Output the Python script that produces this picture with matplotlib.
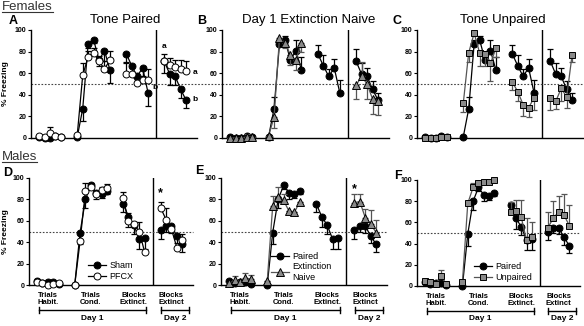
import matplotlib
matplotlib.use("Agg")
import matplotlib.pyplot as plt
import matplotlib.transforms as mtransforms
import numpy as np
from matplotlib.lines import Line2D

plt.rcParams["font.family"] = ["Liberation Sans", "DejaVu Sans"]

# x positions: 5 habituation trials, 7 conditioning trials, 5 extinction blocks day 1, 5 blocks day 2
X_POS = [1, 2, 3, 4, 5, 8, 9, 10, 11, 12, 13, 14, 17, 18, 19, 20, 21, 24, 25, 26, 27, 28]
SEGMENTS = [(0, 5), (5, 12), (12, 17), (17, 22)]
NA = np.nan

# Females
fem_paired = [1, 0, 0, 2, 1, 1, 27, 87, 91, 72, 81, 63, 78, 67, 57, 65, 42, 71, 59, 57, 45, 35]
fem_paired_err = [0, 0, 0, 0, 0, 0, 11, 4, 3, 5, 10, 12, 8, 10, 7, 8, 12, 11, 10, 8, 8, 7]
fem_pfcx = [2, 1, 5, 2, 1, 3, 58, 75, 79, 71, 64, 72, 59, 59, 51, 54, 54, 71, 68, 66, 64, 62]
fem_pfcx_err = [0, 0, 5, 0, 0, 0, 11, 6, 4, 5, 7, 9, 10, 0, 0, 9, 10, 7, 6, 6, 8, 9]
fem_naive = [0, 0, 0, 1, 1, 2, 19, 93, 88, 77, 72, 88, NA, NA, NA, NA, NA, 49, 57, 50, 36, 34]
fem_naive_err = [0, 0, 0, 3, 0, 0, -10, -3, -5, -9, -9, -8, 0, 0, 0, 0, 0, -13, 13, -14, -14, -13]
fem_unpaired = [0, 0, 0, 1, 1, 32, 79, 97, 79, 78, 69, 83, 52, 43, 31, 28, 37, 37, 34, 46, 38, 77]
fem_unpaired_err = [0, 0, 0, 0, 0, -8, -9, 0, -12, -11, -16, -8, -8, -9, -11, -9, -11, -11, -7, -12, -10, -7]

# Males
male_paired = [4, 2, 3, 3, 1, 0, 49, 80, 93, 86, 85, 88, 76, 64, 56, 43, 44, 51, 55, 55, 46, 38]
male_paired_err = [0, 0, 0, 0, 0, 0, 11, 8, 3, 6, 4, 3, 8, 10, 8, 9, 10, 8, 5, 6, 7, 7]
male_pfcx = [3, 1.5, 0, 1, 2, 0, 41, 88, 92, 85, 89, 91, 81, 60, 57, 50, 31, 72, 61, 52, 35, 42]
male_pfcx_err = [0, 0, 0, 0, 0, 0, 0, 7, 3, 0, 3, 3, 6, 7, 0, 9, 0, 6, 11, 0, 0, 6]
male_naive = [1.5, 4.5, 3, 6.5, 5.5, 4, 74, 82, 79, 69, 68, 78, NA, NA, NA, NA, NA, 77, 78, 63, 57, 49]
male_naive_err = [0, 4, 0, 5, 4, 0, 9, 10, 6, 0, 0, 0, 0, 0, 0, 0, 0, 8, 7, 8, 13, 12]
male_unpaired = [5, 4, 2, 9, 2, 3.5, 78, 93, 97, 98, 98, 100, 70, 71, 65, 43, 46, 55, 64, 70, 67, 57]
male_unpaired_err = [0, 0, 0, 6, 0, 0, 0, 4, 2, 0, 0, 0, 9, 10, 16, 21, 14, 15, 16, 15, 20, 19]

GROUP_LABELS = ["Trials\nHabit.", "Trials\nCond.", "Blocks\nExtinct.", "Blocks\nExtinct"]
GROUP_CENTERS = [3, 11, 19, 26]

W, H = 584, 326
GRAY = "#8a8a8a"
DARK = "#555555"
INK = "black"


def px_axes(fig, left, top, right, bottom):
    return fig.add_axes([left / W, 1 - bottom / H, (right - left) / W, (bottom - top) / H])


def style_axes(ax, dotted_extent=1.0):
    ax.set_facecolor("none")
    ax.set_xlim(-0.5, 30)
    ax.set_ylim(0, 100)
    ax.set_yticks(range(0, 101, 20))
    ax.set_xticks([])
    for lab in ax.get_yticklabels():
        lab.set_fontweight("bold")
    ax.tick_params(axis="y", labelsize=5, length=2.5, width=0.8, pad=1)
    for side in ("top", "right"):
        ax.spines[side].set_visible(False)
    for side in ("left", "bottom"):
        ax.spines[side].set_linewidth(1.0)
    ax.axvline(22.5, color=INK, lw=1.0, zorder=1)
    ax.axhline(50, xmin=0, xmax=dotted_extent, color="#444444", lw=0.8,
               ls=(0, (1.5, 1.5)), clip_on=False, zorder=1)


def split_err(err, sign):
    e = np.asarray(err, float) * sign
    return np.where(e < 0, -e, 0), np.where(e > 0, e, 0)


def draw_series(ax, values, err, marker, face, line, ms, sign=1, z=3):
    x = np.asarray(X_POS, float)
    y = np.asarray(values, float)
    lo, hi = split_err(err, sign)
    for a, b in SEGMENTS:
        if np.all(np.isnan(y[a:b])):
            continue
        ax.errorbar(x[a:b], y[a:b], yerr=[lo[a:b], hi[a:b]], fmt="none", ecolor=line,
                    elinewidth=0.9, capsize=2.2, capthick=0.9, zorder=z, clip_on=False)
        ax.plot(x[a:b], y[a:b], color=line, lw=0.9, marker=marker, ms=ms, mfc=face,
                mec="black", mew=0.7, zorder=z + 0.5, clip_on=False)


def handle(marker, face, line, ms):
    return Line2D([], [], color=line, lw=0.9, marker=marker, ms=ms, mfc=face, mec="black", mew=0.7)


def panel_letter(ax, letter, x, y):
    ax.text(x, y, letter, transform=ax.transAxes, fontsize=9, fontweight="bold",
            ha="center", va="center")


def bottom_labels(ax):
    trans = mtransforms.blended_transform_factory(ax.transData, ax.transAxes)
    for cx, lab in zip(GROUP_CENTERS, GROUP_LABELS):
        ax.text(cx, -0.065, lab, transform=trans, ha="center", va="top", fontsize=5.5,
                fontweight="bold", linespacing=1.0)
    for x0, x1, lab in [(1.3, 21.3, "Day 1"), (24.1, 29.3, "Day 2")]:
        ax.plot([x0, x1], [-0.235, -0.235], color=INK, lw=1.0, transform=trans, clip_on=False)
        for xe in (x0, x1):
            ax.plot([xe, xe], [-0.205, -0.265], color=INK, lw=1.0, transform=trans, clip_on=False)
        ax.text((x0 + x1) / 2, -0.31, lab, transform=trans, ha="center", va="center",
                fontsize=6, fontweight="bold")


fig = plt.figure(figsize=(W / 100, H / 100), dpi=100)

axA = px_axes(fig, 31, 30, 197, 138)
axB = px_axes(fig, 222, 30, 389, 138)
axC = px_axes(fig, 417, 30, 583, 138)
axD = px_axes(fig, 29, 178, 193, 285)
axE = px_axes(fig, 221, 178, 387, 285)
axF = px_axes(fig, 417, 180, 580, 286)

for ax in (axA, axB):
    style_axes(ax, dotted_extent=1.15)
for ax in (axC, axD, axE, axF):
    style_axes(ax)

# --- Females ---
draw_series(axA, fem_paired, fem_paired_err, "o", "black", INK, 5, sign=-1)
draw_series(axA, fem_pfcx, fem_pfcx_err, "o", "white", INK, 5, z=4)
draw_series(axB, fem_paired, fem_paired_err, "o", "black", INK, 5)
draw_series(axB, fem_naive, fem_naive_err, "^", GRAY, DARK, 5.5, z=4)
draw_series(axC, fem_paired, fem_paired_err, "o", "black", INK, 5)
draw_series(axC, fem_unpaired, fem_unpaired_err, "s", GRAY, DARK, 5, z=4)

axA.text(0.57, 1.09, "Tone Paired", transform=axA.transAxes, ha="center", va="center", fontsize=9.5)
axB.text(0.52, 1.09, "Day 1 Extinction Naive", transform=axB.transAxes, ha="center", va="center", fontsize=9.5)
axC.text(0.515, 1.09, "Tone Unpaired", transform=axC.transAxes, ha="center", va="center", fontsize=9.5)

for x, y, s in [(24, 85, "a"), (29.7, 61, "a"), (29.7, 36, "b"), (22.2, 47, "b")]:
    axA.text(x, y, s, ha="center", va="center", fontsize=6, fontweight="bold", clip_on=False)

# --- Males ---
draw_series(axD, male_paired, male_paired_err, "o", "black", INK, 5, sign=-1)
draw_series(axD, male_pfcx, male_pfcx_err, "o", "white", INK, 5, z=4)
draw_series(axE, male_paired, male_paired_err, "o", "black", INK, 5, sign=-1)
draw_series(axE, male_naive, male_naive_err, "^", GRAY, DARK, 5.5, z=4)
draw_series(axF, male_paired, male_paired_err, "o", "black", INK, 5, sign=-1)
draw_series(axF, male_unpaired, male_unpaired_err, "s", GRAY, DARK, 5, z=4)

axD.text(24, 86, "*", ha="center", va="center", fontsize=9, fontweight="bold")
axE.text(24, 90, "*", ha="center", va="center", fontsize=9, fontweight="bold")

legend_kw = dict(frameon=False, fontsize=6.5, handlelength=2.0, handletextpad=0.4,
                 labelspacing=0.15, borderpad=0, borderaxespad=0)
axD.legend([handle("o", "black", INK, 5), handle("o", "white", INK, 5)], ["Sham", "PFCX"],
           loc="lower left", bbox_to_anchor=(0.36, 0.04), **legend_kw)
axE.legend([handle("o", "black", INK, 5), handle("^", GRAY, DARK, 5.5)], ["Paired", "Extinction\nNaive"],
           loc="lower left", bbox_to_anchor=(0.30, 0.03), **legend_kw)
axF.legend([handle("o", "black", INK, 5), handle("s", GRAY, DARK, 5)], ["Paired", "Unpaired"],
           loc="lower left", bbox_to_anchor=(0.35, 0.04), **legend_kw)

for ax in (axD, axE, axF):
    bottom_labels(ax)

axA.set_ylabel("% Freezing", fontsize=6, fontweight="bold")
axA.yaxis.set_label_coords(-0.13, 0.5)
axD.set_ylabel("% Freezing", fontsize=6, fontweight="bold")
axD.yaxis.set_label_coords(-0.12, 0.5)

panel_letter(axA, "A", -0.11, 1.08)
panel_letter(axB, "B", -0.12, 1.08)
panel_letter(axC, "C", -0.12, 1.08)
panel_letter(axD, "D", -0.13, 1.05)
panel_letter(axE, "E", -0.13, 1.07)
panel_letter(axF, "F", -0.12, 1.04)

# section headers with underline
headers = [fig.text(2 / W, 1 - 7 / H, "Females", fontsize=9.5, color="#333333", va="center"),
           fig.text(2 / W, 1 - 157 / H, "Males", fontsize=9.5, color="#333333", va="center")]
fig.canvas.draw()
inv = fig.transFigure.inverted()
for t in headers:
    bb = t.get_window_extent().transformed(inv)
    fig.add_artist(Line2D([bb.x0, bb.x1], [bb.y0 + 0.002, bb.y0 + 0.002], transform=fig.transFigure,
                          color="#333333", lw=0.8))

fig.savefig("out.png", dpi=100)
